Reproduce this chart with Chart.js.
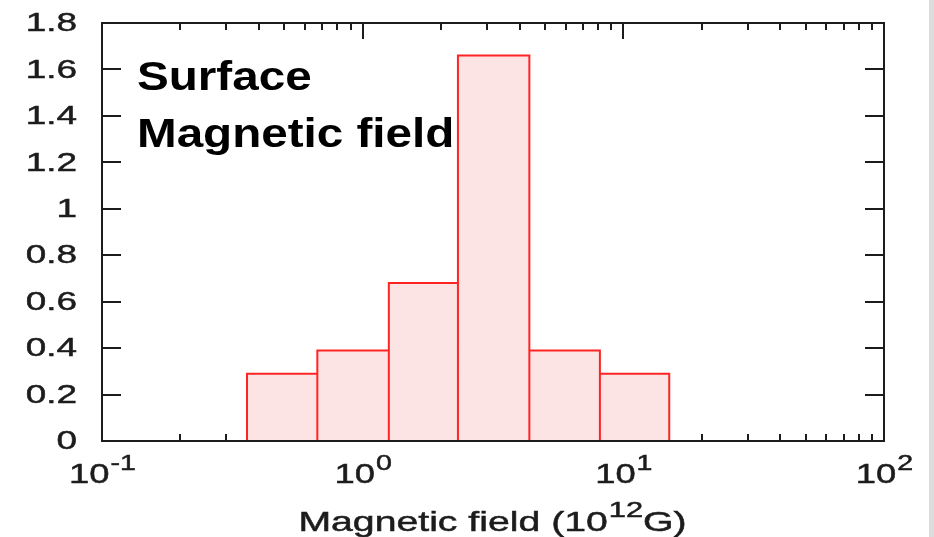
<!DOCTYPE html>
<html>
<head>
<meta charset="utf-8">
<script src="https://cdn.jsdelivr.net/npm/chart.js@4.4.0/dist/chart.umd.min.js"></script>
<style>
  html, body { margin: 0; padding: 0; background: #fff; }
  #wrap { position: relative; width: 934px; height: 537px; }
  #strip { position: absolute; left: 929px; top: 0; width: 5px; height: 537px; background: #dcdcdc; }
</style>
</head>
<body>
<div id="wrap"><canvas id="hist"></canvas><div id="strip"></div></div>
<script>
// histogram bins (units of 10^12 G) and their normalised heights
const binEdges = [0.36, 0.67, 1.26, 2.32, 4.36, 8.13, 15.0];
const binHeights = [0.29, 0.39, 0.68, 1.66, 0.39, 0.29];

const yTicks = [0, 0.2, 0.4, 0.6, 0.8, 1, 1.2, 1.4, 1.6, 1.8];
const yTickLabels = ['0', '0.2', '0.4', '0.6', '0.8', '1', '1.2', '1.4', '1.6', '1.8'];
const xDecades = [0.1, 1, 10, 100];
const xDecadeExps = ['-1', '0', '1', '2'];

const noteLines = ['Surface', 'Magnetic field'];
const xTitleParts = ['Magnetic field (10', '12', 'G)'];

// closed outline of every bin, walked left to right
const outline = [];
binHeights.forEach((h, i) => {
  outline.push(
    { x: binEdges[i], y: 0 },
    { x: binEdges[i], y: h },
    { x: binEdges[i + 1], y: h },
    { x: binEdges[i + 1], y: 0 }
  );
});

// log minor ticks 2..9 inside each decade
const xMinor = [];
xDecades.slice(0, -1).forEach((d) => {
  for (let m = 2; m <= 9; m++) xMinor.push(d * m);
});

const INK = '#1c1c1c';
const FONT = '"Liberation Sans", Arial, sans-serif';

// gnuplot-ish wide lettering: text stretched horizontally, lightly stroked
function wideText(ctx, text, x, y, font, sx, weight) {
  ctx.save();
  ctx.font = font;
  ctx.translate(x, y);
  ctx.scale(sx, 1);
  ctx.textAlign = 'left';
  ctx.fillText(text, 0, 0);
  if (weight) {
    ctx.lineWidth = weight;
    ctx.strokeStyle = ctx.fillStyle;
    ctx.strokeText(text, 0, 0);
  }
  ctx.restore();
}
function wideWidth(ctx, text, font, sx) {
  ctx.save();
  ctx.font = font;
  const w = ctx.measureText(text).width * sx;
  ctx.restore();
  return w;
}

const framePlugin = {
  id: 'frame',
  beforeDatasetsDraw(chart) {
    const { ctx, chartArea: a, scales: { x, y } } = chart;
    ctx.save();
    ctx.strokeStyle = INK;
    ctx.lineWidth = 2;
    ctx.beginPath();
    yTicks.forEach((v) => {
      const py = Math.round(y.getPixelForValue(v));
      ctx.moveTo(a.left, py); ctx.lineTo(a.left + 19, py);
      ctx.moveTo(a.right, py); ctx.lineTo(a.right - 19, py);
    });
    xDecades.forEach((v) => {
      const px = Math.round(x.getPixelForValue(v));
      ctx.moveTo(px, a.bottom); ctx.lineTo(px, a.bottom - 16);
      ctx.moveTo(px, a.top); ctx.lineTo(px, a.top + 16);
    });
    xMinor.forEach((v) => {
      const px = Math.round(x.getPixelForValue(v));
      ctx.moveTo(px, a.bottom); ctx.lineTo(px, a.bottom - 7);
      ctx.moveTo(px, a.top); ctx.lineTo(px, a.top + 7);
    });
    ctx.stroke();
    ctx.restore();
  },
  afterDatasetsDraw(chart) {
    const { ctx, chartArea: a, scales: { x, y } } = chart;
    ctx.save();
    ctx.strokeStyle = INK;
    ctx.lineWidth = 2;
    ctx.strokeRect(a.left, a.top, a.right - a.left, a.bottom - a.top);

    ctx.fillStyle = INK;
    ctx.textBaseline = 'middle';
    // y tick labels
    const yFont = '26px ' + FONT;
    yTicks.forEach((v, i) => {
      const w = wideWidth(ctx, yTickLabels[i], yFont, 1.42);
      wideText(ctx, yTickLabels[i], 77 - w, y.getPixelForValue(v) + 1, yFont, 1.42, 0.5);
    });

    // x tick labels 10^n
    ctx.textBaseline = 'alphabetic';
    const xFont = '28px ' + FONT;
    const supFont = '22px ' + FONT;
    xDecades.forEach((v, i) => {
      const w1 = wideWidth(ctx, '10', xFont, 1.3);
      const w2 = wideWidth(ctx, xDecadeExps[i], supFont, 1.3);
      const left = x.getPixelForValue(v) - (w1 + w2) / 2;
      wideText(ctx, '10', left, 483, xFont, 1.3, 0.5);
      wideText(ctx, xDecadeExps[i], left + w1 + 1, 470, supFont, 1.3, 0.5);
    });

    // axis title with superscript exponent
    const tFont = '28px ' + FONT;
    const tSup = '22px ' + FONT;
    const wa = wideWidth(ctx, xTitleParts[0], tFont, 1.4);
    const wb = wideWidth(ctx, xTitleParts[1], tSup, 1.4);
    const wc = wideWidth(ctx, xTitleParts[2], tFont, 1.4);
    let tx = 492 - (wa + wb + wc) / 2;
    wideText(ctx, xTitleParts[0], tx, 531, tFont, 1.4, 0.5);
    tx += wa + 1;
    wideText(ctx, xTitleParts[1], tx, 517, tSup, 1.4, 0.5);
    tx += wb;
    wideText(ctx, xTitleParts[2], tx, 531, tFont, 1.4, 0.5);

    // note in the upper left
    ctx.fillStyle = '#000';
    const nFont = 'bold 40px ' + FONT;
    wideText(ctx, noteLines[0], 137, 90, nFont, 1.19);
    wideText(ctx, noteLines[1], 137, 147, nFont, 1.19);
    ctx.restore();
  }
};

new Chart(document.getElementById('hist'), {
  type: 'line',
  data: {
    datasets: [{
      data: outline,
      borderColor: '#ff2424',
      borderWidth: 2,
      backgroundColor: '#fde4e4',
      fill: 'origin',
      pointRadius: 0,
      tension: 0
    }]
  },
  options: {
    responsive: true,
    maintainAspectRatio: false,
    animation: false,
    layout: { padding: { left: 102, right: 50, top: 23, bottom: 96 } },
    plugins: { legend: { display: false }, tooltip: { enabled: false } },
    scales: {
      x: { type: 'logarithmic', min: 0.1, max: 100, display: false },
      y: { type: 'linear', min: 0, max: 1.8, display: false }
    }
  },
  plugins: [framePlugin]
});
</script>
</body>
</html>
